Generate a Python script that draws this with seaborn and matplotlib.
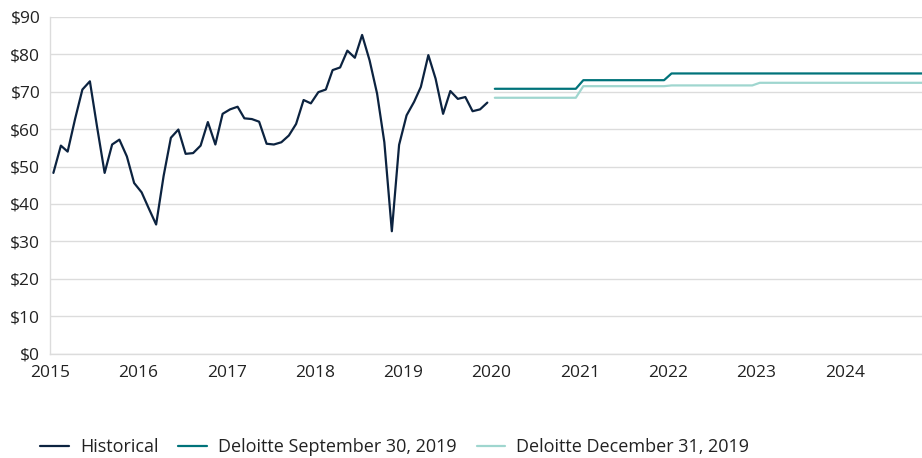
import numpy as np
import pandas as pd
import matplotlib
matplotlib.use("Agg")
import matplotlib.pyplot as plt
import matplotlib.dates as mdates
from matplotlib.ticker import FuncFormatter
import seaborn as sns

# ---- data ----
historical = [48.3, 55.6, 54.0, 62.8, 70.6, 72.8, 60.5, 48.3, 55.9, 57.2, 52.7, 45.6,
              43.1, 38.6, 34.5, 47.5, 57.7, 59.9, 53.4, 53.6, 55.6, 61.9, 55.9, 64.1,
              65.3, 66.0, 62.9, 62.7, 62.0, 56.1, 55.9, 56.5, 58.3, 61.4, 67.8, 66.9,
              69.9, 70.6, 75.8, 76.5, 81.0, 79.1, 85.2, 78.4, 69.5, 56.5, 32.7, 55.8,
              63.7, 67.3, 71.3, 79.8, 73.5, 64.1, 70.2, 68.1, 68.6, 64.8, 65.3, 67.1]
forecast_years = [2020, 2021, 2022, 2023, 2024]
deloitte_sep = [70.8, 73.1, 74.9, 74.9, 74.9]
deloitte_dec = [68.4, 71.5, 71.7, 72.4, 72.4]
series_names = ["Historical", "Deloitte September 30, 2019", "Deloitte December 31, 2019"]
colors = ["#0c2340", "#00737a", "#9fd6cf"]
year_ticks = list(range(2015, 2025))

# ---- build table ----
hist_dates = pd.date_range("2015-01-01", periods=len(historical), freq="MS") + pd.Timedelta(days=14)
fc_dates = pd.date_range("2020-01-01", periods=12 * len(forecast_years), freq="MS") + pd.Timedelta(days=14)
df = pd.concat([
    pd.DataFrame({"date": hist_dates, "value": historical, "series": series_names[0]}),
    pd.DataFrame({"date": fc_dates, "value": np.repeat(deloitte_sep, 12), "series": series_names[1]}),
    pd.DataFrame({"date": fc_dates, "value": np.repeat(deloitte_dec, 12), "series": series_names[2]}),
], ignore_index=True)

sns.set_theme(style="white")
plt.rcParams["font.family"] = ["Open Sans", "DejaVu Sans"]

fig = plt.figure(figsize=(9.22, 4.58), dpi=100)
ax = fig.add_axes([50 / 922, 1 - 353.5 / 458, 872 / 922, (353.5 - 17) / 458])

sns.lineplot(data=df, x="date", y="value", hue="series", hue_order=series_names,
             palette=dict(zip(series_names, colors)), linewidth=1.6, ax=ax, legend=True)

ax.set_ylim(0, 90)
ax.set_yticks(range(0, 91, 10))
ax.yaxis.set_major_formatter(FuncFormatter(lambda v, p: f"${int(v)}"))
ax.set_xlim(pd.Timestamp("2015-01-01"), pd.Timestamp("2024-11-16"))
ax.set_xticks([pd.Timestamp(f"{y}-01-01") for y in year_ticks])
ax.xaxis.set_major_formatter(mdates.DateFormatter("%Y"))
ax.set_xlabel("")
ax.set_ylabel("")

ax.grid(axis="y", color="#dcdcdc", linewidth=1)
ax.set_axisbelow(True)
for s in ["top", "right"]:
    ax.spines[s].set_visible(False)
for s in ["left", "bottom"]:
    ax.spines[s].set_color("#dcdcdc")
    ax.spines[s].set_linewidth(1)
ax.tick_params(axis="both", which="major", length=3, width=1, color="#dcdcdc",
               labelsize=12.5, labelcolor="#222222")
ax.tick_params(axis="y", pad=4)
ax.tick_params(axis="x", pad=5.5)

handles, labels = ax.get_legend_handles_labels()
ax.legend_.remove()
fig.legend(handles, labels, loc="center left", bbox_to_anchor=(24 / 922, 1 - 447 / 458),
           ncol=3, frameon=False, fontsize=13, handlelength=1.6, handletextpad=0.6,
           columnspacing=1.1, labelcolor="#222222")

fig.savefig("out.png", dpi=100)
